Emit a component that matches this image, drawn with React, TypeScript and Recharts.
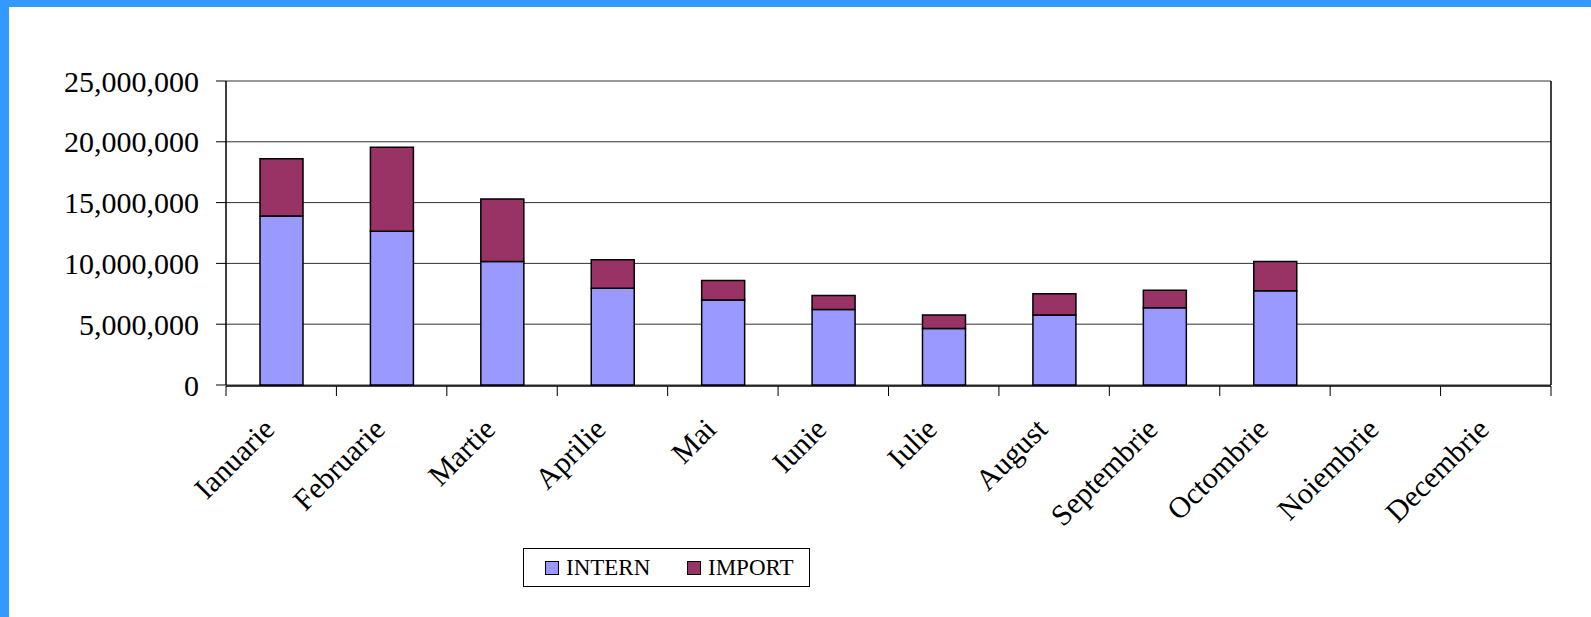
import React from 'react'
import { BarChart, Bar, XAxis, YAxis, CartesianGrid, Legend } from 'recharts'

const months = ['Ianuarie', 'Februarie', 'Martie', 'Aprilie', 'Mai', 'Iunie', 'Iulie', 'August', 'Septembrie', 'Octombrie', 'Noiembrie', 'Decembrie']
const intern = [13900000, 12650000, 10150000, 7950000, 7000000, 6200000, 4650000, 5750000, 6350000, 7750000, null, null]
const imports = [4700000, 6900000, 5150000, 2350000, 1600000, 1150000, 1100000, 1750000, 1450000, 2400000, null, null]
const seriesNames = ['INTERN', 'IMPORT']
const yTicks = [0, 5000000, 10000000, 15000000, 20000000, 25000000]
const edgeTicks = [0, 1, 2, 3, 4, 5, 6, 7, 8, 9, 10, 11, 12]

const FONT = '"Liberation Serif", "Times New Roman", serif'
const BLUE = '#3399FF'

const data = months.map((m, i) => ({ month: m, idx: i + 0.5, INTERN: intern[i], IMPORT: imports[i] }))

const MonthTick = (props: any) => {
  const { x, y, payload } = props
  return (
    <text
      x={x - 5}
      y={y + 46}
      textAnchor="end"
      transform={`rotate(-45, ${x - 5}, ${y + 46})`}
      fontFamily={FONT}
      fontSize={30}
      fill="#000"
    >
      {payload.value}
    </text>
  )
}

const EmptyTick = () => <g />

const LegendBox = (props: any) => {
  const payload = props.payload || []
  const items = seriesNames.map(n => payload.find((p: any) => p.value === n)).filter(Boolean)
  const offsets = [21, 163]
  return (
    <div
      style={{
        position: 'relative',
        width: 287,
        height: 39,
        border: '1px solid #000',
        boxSizing: 'border-box',
        background: '#fff',
        fontFamily: FONT,
        fontSize: 23,
        color: '#000',
      }}
    >
      {items.map((it: any, i: number) => (
        <div
          key={it.value}
          style={{ position: 'absolute', left: offsets[i], top: 0, height: 37, display: 'flex', alignItems: 'center' }}
        >
          <span
            style={{
              display: 'inline-block',
              width: 14,
              height: 14,
              boxSizing: 'border-box',
              border: '1.5px solid #000',
              background: it.color,
              marginRight: 7,
            }}
          />
          <span style={{ lineHeight: '23px' }}>{it.value}</span>
        </div>
      ))}
    </div>
  )
}

export default function App() {
  return (
    <div style={{ position: 'relative', width: 1591, height: 617, background: '#fff', overflow: 'hidden' }}>
      <style>{'body{margin:0;background:#fff}'}</style>
      <div style={{ position: 'absolute', left: 0, top: 0, width: 1591, height: 7, background: BLUE }} />
      <div style={{ position: 'absolute', left: 0, top: 0, width: 9, height: 617, background: BLUE }} />
      <div style={{ position: 'absolute', left: 0, top: 0 }}>
        <BarChart width={1591} height={617} data={data} margin={{ top: 81, right: 39, left: 0, bottom: 230 }}>
          <CartesianGrid horizontal vertical={false} stroke="#333" strokeWidth={1} />
          <XAxis
            xAxisId="edges"
            type="number"
            dataKey="idx"
            domain={[0, 12]}
            ticks={edgeTicks}
            allowDataOverflow
            height={1}
            tickSize={10}
            axisLine={{ stroke: '#000', strokeWidth: 1.5 }}
            tickLine={{ stroke: '#000', strokeWidth: 1 }}
            tick={EmptyTick}
          />
          <XAxis
            dataKey="month"
            height={1}
            tickSize={0}
            tickMargin={0}
            axisLine={false}
            tickLine={false}
            interval={0}
            tick={<MonthTick />}
          />
          <YAxis
            width={226}
            domain={[0, 25000000]}
            ticks={yTicks}
            tickSize={10}
            tickMargin={17}
            axisLine={{ stroke: '#000', strokeWidth: 1.5 }}
            tickLine={{ stroke: '#000', strokeWidth: 1 }}
            tick={{ fontFamily: FONT, fontSize: 30, fill: '#000' }}
            tickFormatter={(v: number) => v.toLocaleString('en-US')}
          />
          <YAxis
            yAxisId="right"
            orientation="right"
            width={1}
            domain={[0, 25000000]}
            ticks={yTicks}
            tick={EmptyTick}
            tickLine={false}
            axisLine={{ stroke: '#000', strokeWidth: 1.5 }}
          />
          <Legend
            layout="vertical"
            align="center"
            verticalAlign="middle"
            wrapperStyle={{ left: 523, top: 548, width: 287 }}
            content={<LegendBox />}
          />
          <Bar dataKey="INTERN" stackId="a" fill="#9999FF" stroke="#000" strokeWidth={1.5} barSize={43} isAnimationActive={false} />
          <Bar dataKey="IMPORT" stackId="a" fill="#993366" stroke="#000" strokeWidth={1.5} barSize={43} isAnimationActive={false} />
        </BarChart>
      </div>
    </div>
  )
}
